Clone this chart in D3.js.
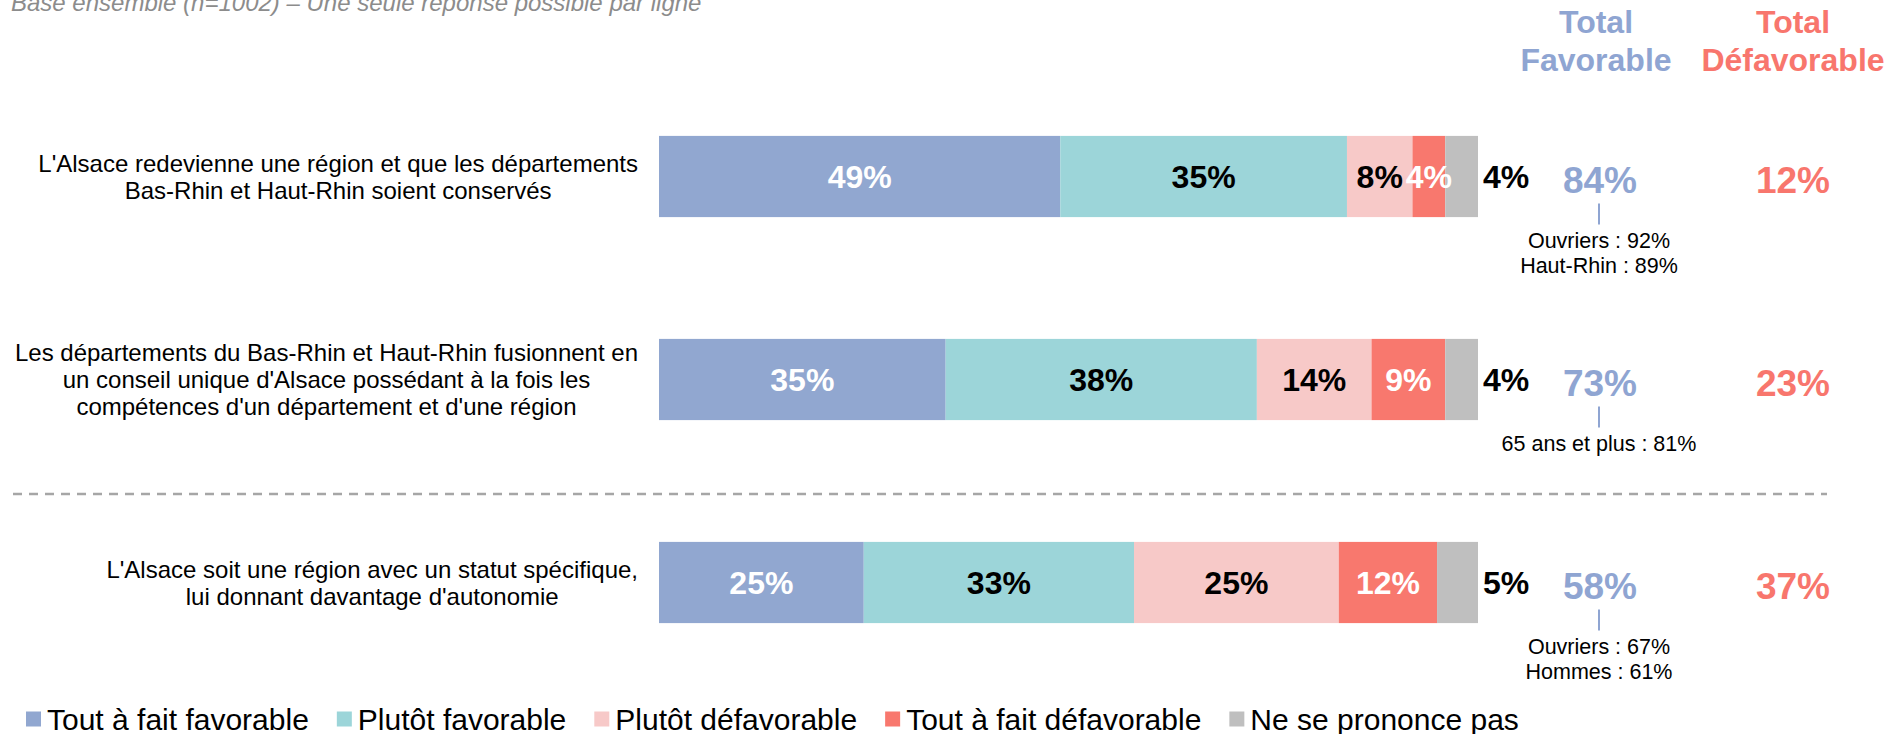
<!DOCTYPE html>
<html>
<head>
<meta charset="utf-8">
<script src="https://cdn.jsdelivr.net/npm/d3@7"></script>
<style>
  body { margin: 0; background: #fff; }
  svg { display: block; font-family: "Liberation Sans", Arial, sans-serif; }
</style>
</head>
<body>
<svg width="1888" height="734"></svg>
<script>
// questions (one per bar)
var categories = [
  ["L'Alsace redevienne une région et que les départements", "Bas-Rhin et Haut-Rhin soient conservés"],
  ["Les départements du Bas-Rhin et Haut-Rhin fusionnent en", "un conseil unique d'Alsace possédant à la fois les", "compétences d'un département et d'une région"],
  ["L'Alsace soit une région avec un statut spécifique,", "lui donnant davantage d'autonomie"]
];
var seriesNames = ["Tout à fait favorable", "Plutôt favorable", "Plutôt défavorable", "Tout à fait défavorable", "Ne se prononce pas"];

var toutFav  = [49, 35, 25];
var plutFav  = [35, 38, 33];
var plutDef  = [8, 14, 25];
var toutDef  = [4, 9, 12];
var nsp      = [4, 4, 5];

var totalFav = [84, 73, 58];
var totalDef = [12, 23, 37];

var details = [
  ["Ouvriers : 92%", "Haut-Rhin : 89%"],
  ["65 ans et plus : 81%"],
  ["Ouvriers : 67%", "Hommes : 61%"]
];

var colors = ["#91a7d0", "#9cd5d9", "#f7c9c8", "#f8786e", "#bfbfbf"];
var labelColors = ["#fff", "#000", "#000", "#fff", "#000"];
var favColor = "#8fa5d2", defColor = "#f8766d";

// table for d3.stack
var keys = ["tf", "pf", "pd", "td", "ns"];
var rows = categories.map(function(c, i) {
  return { id: i, tf: toutFav[i], pf: plutFav[i], pd: plutDef[i], td: toutDef[i], ns: nsp[i] };
});
var stacked = d3.stack().keys(keys)(rows);

var svg = d3.select("svg");

var x = d3.scaleLinear().domain([0, 100]).range([659, 1478]);
var y = d3.scaleBand().domain(d3.range(categories.length)).range([75, 684])
  .paddingInner(0.6).paddingOuter(0.3);

// subtitle (clipped at top as in the source)
svg.append("text")
  .attr("x", 11).attr("y", 11)
  .attr("font-size", 24).attr("font-style", "italic").attr("fill", "#8c8c8c")
  .text("Base ensemble (n=1002) – Une seule réponse possible par ligne");

// column headers
function header(cx, lines, col) {
  var t = svg.append("text").attr("text-anchor", "middle").attr("font-weight", "bold")
    .attr("font-size", 32).attr("fill", col);
  lines.forEach(function(l, i) {
    t.append("tspan").attr("x", cx).attr("y", 33 + i * 38).text(l);
  });
}
header(1596, ["Total", "Favorable"], favColor);
header(1793, ["Total", "Défavorable"], defColor);

// bars
var layer = svg.selectAll("g.layer").data(stacked).enter().append("g")
  .attr("class", "layer").attr("fill", function(d, i) { return colors[i]; });

layer.selectAll("rect").data(function(d) { return d; }).enter().append("rect")
  .attr("x", function(d) { return x(d[0]); })
  .attr("y", function(d) { return y(d.data.id); })
  .attr("width", function(d) { return x(d[1]) - x(d[0]); })
  .attr("height", y.bandwidth());

// value labels
stacked.forEach(function(s, k) {
  svg.append("g").selectAll("text").data(s).enter().append("text")
    .attr("x", function(d) { return k === 4 ? x(d[1]) + 5 : (x(d[0]) + x(d[1])) / 2; })
    .attr("y", function(d) { return y(d.data.id) + y.bandwidth() / 2; })
    .attr("dominant-baseline", "central")
    .attr("text-anchor", k === 4 ? "start" : "middle")
    .attr("font-size", 32).attr("font-weight", "bold")
    .attr("fill", labelColors[k])
    .text(function(d) { return (d[1] - d[0]) + "%"; });
});

// category labels: block right-aligned, lines centred inside the block
categories.forEach(function(lines, i) {
  var cy = y(i) + y.bandwidth() / 2;
  var g = svg.append("g");
  var texts = g.selectAll("text").data(lines).enter().append("text")
    .attr("font-size", 24).attr("fill", "#000")
    .attr("text-anchor", "middle").attr("dominant-baseline", "central")
    .attr("y", function(d, j) { return cy + (j - (lines.length - 1) / 2) * 27; })
    .text(function(d) { return d; });
  var w = d3.max(texts.nodes(), function(n) { return n.getComputedTextLength(); });
  texts.attr("x", 638 - w / 2);
});

// totals
var favX = 1600, defX = 1793;
categories.forEach(function(c, i) {
  var cy = y(i) + y.bandwidth() / 2;
  svg.append("text").attr("x", favX).attr("y", cy + 4)
    .attr("text-anchor", "middle").attr("dominant-baseline", "central")
    .attr("font-size", 37).attr("font-weight", "bold").attr("fill", favColor)
    .text(totalFav[i] + "%");
  svg.append("text").attr("x", defX).attr("y", cy + 4)
    .attr("text-anchor", "middle").attr("dominant-baseline", "central")
    .attr("font-size", 37).attr("font-weight", "bold").attr("fill", defColor)
    .text(totalDef[i] + "%");
  svg.append("line").attr("x1", favX - 1).attr("x2", favX - 1)
    .attr("y1", cy + 27).attr("y2", cy + 48)
    .attr("stroke", favColor).attr("stroke-width", 2);
  details[i].forEach(function(t, j) {
    svg.append("text").attr("x", favX - 1).attr("y", cy + 71 + j * 25)
      .attr("text-anchor", "middle").attr("font-size", 21.5).attr("fill", "#000")
      .text(t);
  });
});

// dashed separator
svg.append("line").attr("x1", 13).attr("x2", 1827).attr("y1", 494).attr("y2", 494)
  .attr("stroke", "#a6a6a6").attr("stroke-width", 2.5).attr("stroke-dasharray", "9,7");

// legend
var lx = 26;
seriesNames.forEach(function(n, i) {
  var g = svg.append("g").attr("transform", "translate(" + lx + ",719)");
  g.append("rect").attr("x", 0).attr("y", -7.5).attr("width", 15).attr("height", 15).attr("fill", colors[i]);
  var t = g.append("text").attr("x", 21).attr("y", 0).attr("dominant-baseline", "central")
    .attr("font-size", 30).attr("fill", "#000").text(n);
  lx += 21 + t.node().getComputedTextLength() + 28;
});
</script>
</body>
</html>
